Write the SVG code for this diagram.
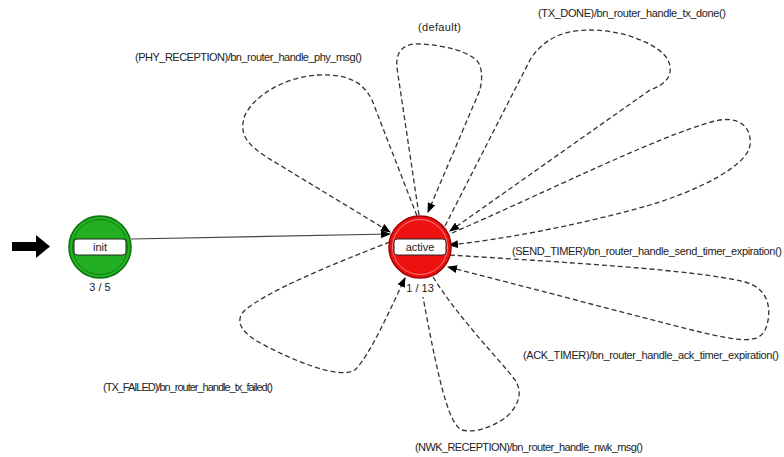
<svg xmlns="http://www.w3.org/2000/svg" width="784" height="457" viewBox="0 0 784 457">
<defs>
<style>
.lbl{font-family:"Liberation Sans","DejaVu Sans",sans-serif;font-size:11px;fill:#222}
.cnt{font-family:"Liberation Sans","DejaVu Sans",sans-serif;font-size:11px;fill:#222;text-anchor:middle}
.loop{fill:none;stroke:#333;stroke-width:1.3;stroke-dasharray:5,3}
.tr{fill:none;stroke:#444;stroke-width:1.2}
.box{fill:#fff;stroke:#222;stroke-width:1}
</style>
<marker id="ah" markerWidth="10" markerHeight="8" refX="9" refY="4" orient="auto" markerUnits="userSpaceOnUse">
<path d="M0,0 L10,4 L0,8 Z" fill="#000"/>
</marker>
</defs>
<rect width="784" height="457" fill="#fff"/>
<g id="start-arrow">
<polygon points="12,242 36,242 36,235 50,246.5 36,258 36,251 12,251" fill="#000"/>
</g>
<g id="connectors">
<path class="tr" d="M131,239 L390,234" marker-end="url(#ah)"/>
<path class="loop" d="M417,216 L372,100 C362,80 345,74 318,75 C285,77 255,95 245,115 C238,135 248,145 268,158 L390,232" marker-end="url(#ah)"/>
<path class="loop" d="M419,215 L397,68 C395,50 405,43 420,44 C445,45 470,52 478,62 C484,72 481,85 480,90 L428,212" marker-end="url(#ah)"/>
<path class="loop" d="M445,226 L530,60 C545,35 570,30 590,30 C625,30 660,45 668,60 C675,75 665,85 650,90 L450,231" marker-end="url(#ah)"/>
<path class="loop" d="M452,233 C540,195 660,135 715,121 C740,115 752,128 750,145 C748,165 700,190 650,205 C580,225 500,240 449,245" marker-end="url(#ah)"/>
<path class="loop" d="M450,255 C560,262 700,270 745,282 C775,290 770,320 765,330 C758,345 735,340 700,332 C620,312 520,285 448,267" marker-end="url(#ah)"/>
<path class="loop" d="M433,277 C460,320 500,360 515,380 C525,395 515,410 505,418 C490,428 475,433 462,430 C450,425 440,390 423,297"/>
<path class="loop" d="M390,242 C330,265 270,290 245,310 C235,320 240,330 255,340 C290,360 340,380 355,370 C370,355 390,310 405,278" marker-end="url(#ah)"/>
</g>
<g id="init">
<circle cx="100" cy="247" r="31" fill="#22b022" stroke="#0d6e0d" stroke-width="1.5"/>
<circle cx="100" cy="247" r="27.5" fill="none" stroke="#0f7f0f" stroke-width="1"/>
<rect class="box" x="74" y="239" width="52" height="16" rx="3"/>
<text class="cnt" x="100" y="251">init</text>
<text class="cnt" x="100" y="291">3 / 5</text>
</g>
<g id="active">
<circle cx="420" cy="247" r="31" fill="#ee1111" stroke="#a00000" stroke-width="1.5"/>
<circle cx="420" cy="247" r="27.5" fill="none" stroke="#f48080" stroke-width="1"/>
<rect class="box" x="394" y="239" width="52" height="16" rx="3"/>
<text class="cnt" x="420" y="251">active</text>
<rect x="405" y="282" width="30" height="12" fill="#fff"/>
<text class="cnt" x="420" y="292">1 / 13</text>
</g>
<g id="labels">
<text class="lbl" x="135" y="61" textLength="227">(PHY_RECEPTION)/bn_router_handle_phy_msg()</text>
<text class="lbl" x="418" y="31" textLength="43">(default)</text>
<text class="lbl" x="538" y="17" textLength="188">(TX_DONE)/bn_router_handle_tx_done()</text>
<text class="lbl" x="512" y="255" textLength="270">(SEND_TIMER)/bn_router_handle_send_timer_expiration()</text>
<text class="lbl" x="523" y="359" textLength="256">(ACK_TIMER)/bn_router_handle_ack_timer_expiration()</text>
<text class="lbl" x="103" y="391" textLength="170">(TX_FAILED)/bn_router_handle_tx_failed()</text>
<text class="lbl" x="415" y="451" textLength="228">(NWK_RECEPTION)/bn_router_handle_nwk_msg()</text>
</g>
</svg>
